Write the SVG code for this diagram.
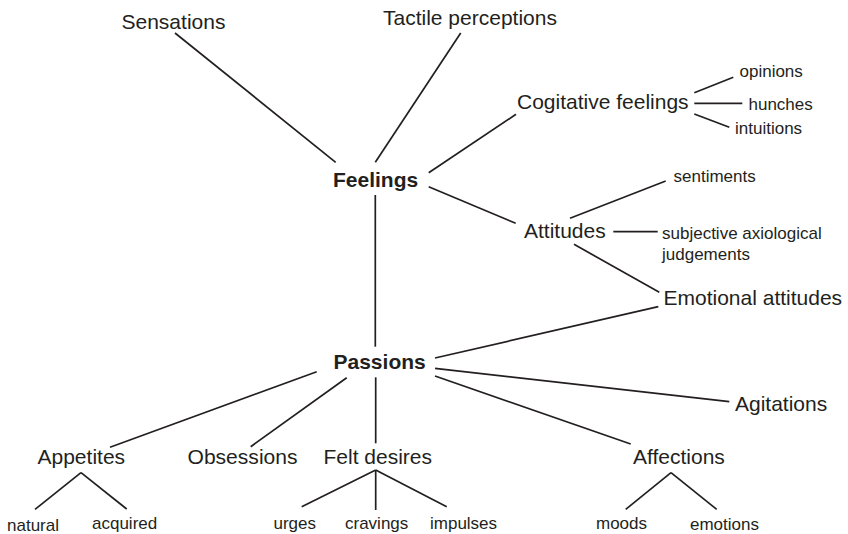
<svg xmlns="http://www.w3.org/2000/svg" width="848" height="534" viewBox="0 0 848 534">
<style>
  text { font-family: "Liberation Sans", Arial, sans-serif; fill: #231f20; }
  .l { font-size: 21px; }
  .b { font-size: 21px; font-weight: bold; }
  .s { font-size: 17px; }
  #connectors line { stroke: #231f20; stroke-width: 1.7; stroke-linecap: butt; }
</style>
<rect width="848" height="534" fill="#ffffff"/>
<g id="connectors">
  <line x1="175" y1="33" x2="335.7" y2="162.3"/>
  <line x1="460.7" y1="33" x2="375.3" y2="162.3"/>
  <line x1="516" y1="114.3" x2="428.7" y2="172.7"/>
  <line x1="428.7" y1="186.7" x2="515.7" y2="223.3"/>
  <line x1="375.3" y1="195" x2="375.3" y2="346.7"/>
  <line x1="694.3" y1="92.7" x2="733.3" y2="77.3"/>
  <line x1="694.3" y1="103.3" x2="742.3" y2="103.3"/>
  <line x1="694.3" y1="114" x2="729.3" y2="127.3"/>
  <line x1="570" y1="218.3" x2="665.7" y2="181"/>
  <line x1="613.3" y1="231.7" x2="657.7" y2="231.7"/>
  <line x1="574" y1="244.3" x2="659.3" y2="292.3"/>
  <line x1="435" y1="358" x2="658.3" y2="306.7"/>
  <line x1="435" y1="368.3" x2="729.3" y2="401.7"/>
  <line x1="435" y1="376" x2="630.7" y2="444"/>
  <line x1="316.7" y1="371.7" x2="110" y2="447.3"/>
  <line x1="346.7" y1="377.7" x2="250.7" y2="446.7"/>
  <line x1="375.7" y1="377.3" x2="375.7" y2="443.3"/>
  <line x1="81" y1="472.7" x2="35" y2="509.3"/>
  <line x1="81" y1="472.7" x2="126.7" y2="509"/>
  <line x1="375.7" y1="470" x2="301.7" y2="506.7"/>
  <line x1="375.7" y1="470" x2="375.7" y2="510"/>
  <line x1="375.7" y1="470" x2="446.7" y2="506.7"/>
  <line x1="671" y1="472.7" x2="625.7" y2="509.3"/>
  <line x1="671" y1="472.7" x2="716.7" y2="509.3"/>
</g>
<g id="sensations"><text class="l" x="121.5" y="29">Sensations</text></g>
<g id="tactile"><text class="l" x="383" y="25">Tactile perceptions</text></g>
<g id="cogitative"><text class="l" x="517" y="109">Cogitative feelings</text></g>
<g id="opinions"><text class="s" x="739.5" y="77">opinions</text></g>
<g id="hunches"><text class="s" x="748.5" y="109.5">hunches</text></g>
<g id="intuitions"><text class="s" x="735" y="133.5">intuitions</text></g>
<g id="feelings"><text class="b" x="333" y="187">Feelings</text></g>
<g id="sentiments"><text class="s" x="673.5" y="181.5">sentiments</text></g>
<g id="attitudes"><text class="l" x="524" y="238">Attitudes</text></g>
<g id="judgements"><text class="s" x="662" y="239">subjective axiological</text><text class="s" x="662" y="260">judgements</text></g>
<g id="emotional"><text class="l" x="663.5" y="305">Emotional attitudes</text></g>
<g id="passions"><text class="b" x="333.5" y="369">Passions</text></g>
<g id="agitations"><text class="l" x="735" y="411">Agitations</text></g>
<g id="appetites"><text class="l" x="37.5" y="464">Appetites</text></g>
<g id="obsessions"><text class="l" x="187.5" y="464" textLength="110" lengthAdjust="spacingAndGlyphs">Obsessions</text></g>
<g id="felt-desires"><text class="l" x="323.5" y="464">Felt desires</text></g>
<g id="affections"><text class="l" x="633" y="464">Affections</text></g>
<g id="natural"><text class="s" x="7" y="530.5">natural</text></g>
<g id="acquired"><text class="s" x="92" y="528.5">acquired</text></g>
<g id="urges"><text class="s" x="273.5" y="528.5">urges</text></g>
<g id="cravings"><text class="s" x="345" y="528.5">cravings</text></g>
<g id="impulses"><text class="s" x="430" y="529">impulses</text></g>
<g id="moods"><text class="s" x="596" y="528.5">moods</text></g>
<g id="emotions"><text class="s" x="690" y="529.5">emotions</text></g>
</svg>
